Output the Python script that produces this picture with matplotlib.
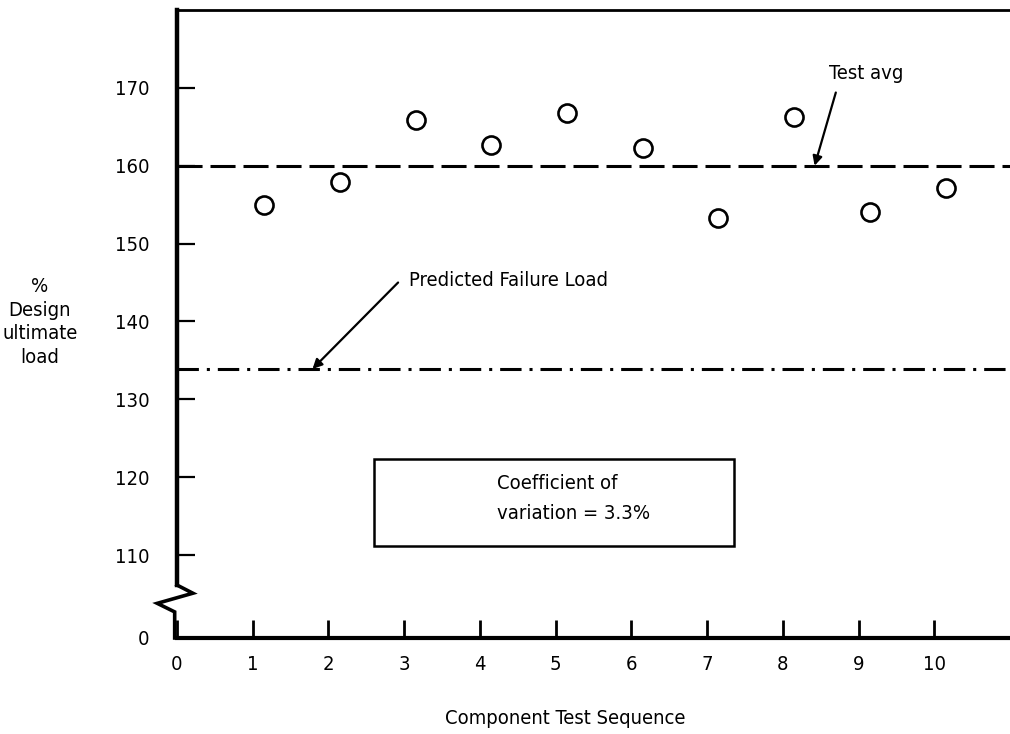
import matplotlib
matplotlib.use("Agg")
import matplotlib.pyplot as plt
from matplotlib.patches import Rectangle

plt.rcParams['font.family'] = ['DejaVu Sans']
plt.rcParams['font.stretch'] = 'condensed'

# ---- data ----
test_x = [1.15, 2.15, 3.15, 4.15, 5.15, 6.15, 7.15, 8.15, 9.15, 10.15]
test_load = [154.9, 157.9, 165.9, 162.6, 166.8, 162.3, 153.3, 166.3, 154.1, 157.2]
test_avg = 160.0
predicted_failure = 133.9
coef_variation = 3.3
x_ticks = [0, 1, 2, 3, 4, 5, 6, 7, 8, 9, 10]
y_ticks = [110, 120, 130, 140, 150, 160, 170]
y_break_zero = 99.35   # position where the broken axis shows "0"

FS = 14.5

fig = plt.figure(figsize=(10.10, 7.34), dpi=100)
ax = fig.add_axes([0.1752, 0.1308, 0.8248, 0.8556])
ax.set_xlim(0, 11)
ax.set_ylim(y_break_zero, 180)

# spines
ax.spines['right'].set_visible(False)
ax.spines['left'].set_visible(False)
ax.spines['top'].set_linewidth(2.0)
ax.spines['bottom'].set_linewidth(3.0)
ax.spines['bottom'].set_capstyle('projecting')

# left spine with break zigzag
ax.plot([0, 0], [106.15, 180], color='black', lw=3.2, clip_on=False, solid_capstyle='projecting')
ax.plot([0, 0.21, -0.26, -0.03, -0.03], [106.15, 105.1, 103.8, 102.7, y_break_zero],
        color='black', lw=2.6, clip_on=False, solid_joinstyle='miter')

# ticks
ax.set_xticks(x_ticks)
ax.set_xticklabels([str(v) for v in x_ticks])
ax.set_yticks([y_break_zero] + y_ticks)
ax.set_yticklabels(['0'] + [str(v) for v in y_ticks])
ax.tick_params(axis='x', direction='in', length=13, width=2.0, pad=12, labelsize=FS)
ax.tick_params(axis='y', direction='in', length=13, width=1.6, pad=20, labelsize=FS)

# reference lines
ax.plot([0, 11], [test_avg, test_avg], color='black', lw=2.2,
        linestyle=(0, (8.2, 2.6)), clip_on=False)
ax.plot([0, 11], [predicted_failure, predicted_failure], color='black', lw=2.2,
        linestyle=(0, (7.0, 2.6, 1.0, 2.6)), clip_on=False)

# points
ax.plot(test_x, test_load, linestyle='none', marker='o', markersize=13,
        markerfacecolor='white', markeredgecolor='black', markeredgewidth=1.9)

# annotations
ax.text(9.1, 171.8, 'Test avg', fontsize=FS, ha='center', va='center')
ax.annotate('', xy=(8.42, test_avg), xytext=(8.7, 169.4),
            arrowprops=dict(arrowstyle='-|>', color='black', lw=1.6,
                            shrinkA=0, shrinkB=0, mutation_scale=14))
ax.text(3.07, 145.3, 'Predicted Failure Load', fontsize=FS, ha='left', va='center')
ax.annotate('', xy=(1.79, predicted_failure), xytext=(2.92, 145.0),
            arrowprops=dict(arrowstyle='-|>', color='black', lw=1.6,
                            shrinkA=0, shrinkB=0, mutation_scale=14))

# box
ax.add_patch(Rectangle((2.6, 111.2), 4.76, 11.2, fill=False, edgecolor='black', lw=1.8))
ax.text(4.22, 119.2, 'Coefficient of', fontsize=FS, ha='left', va='center')
ax.text(4.22, 115.4, 'variation = %.1f%%' % coef_variation, fontsize=FS, ha='left', va='center')

# axis labels
fig.text(40 / 1010, 1 - 322 / 734, '%\nDesign\nultimate\nload', fontsize=FS,
         ha='center', va='center', linespacing=1.3)
fig.text(565 / 1010, 1 - 718 / 734, 'Component Test Sequence', fontsize=FS,
         ha='center', va='center')

fig.savefig('out.png', dpi=100)
